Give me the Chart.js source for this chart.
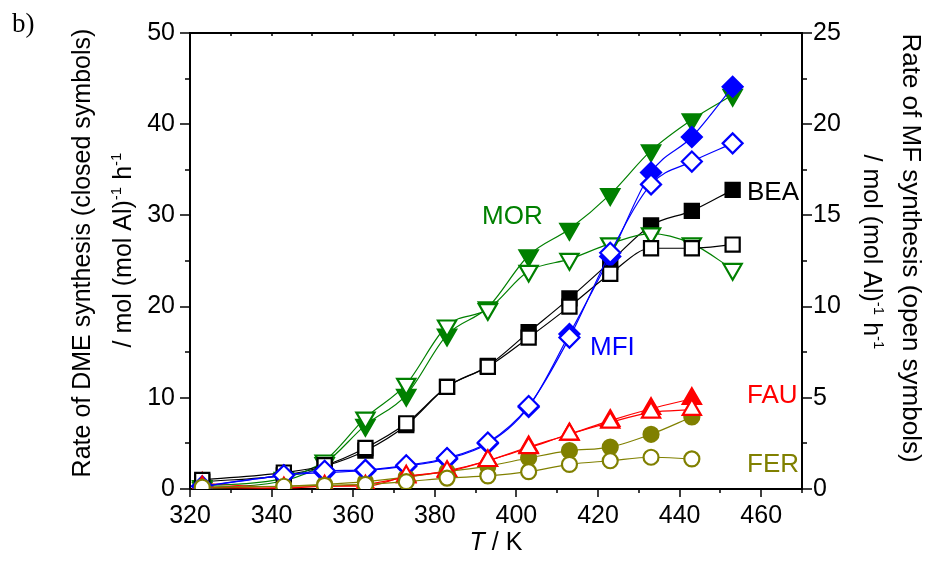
<!DOCTYPE html>
<html>
<head>
<meta charset="utf-8">
<script src="https://cdn.jsdelivr.net/npm/chart.js@4.4.0/dist/chart.umd.min.js"></script>
<style>
body { margin: 0; background: #fff; }
#wrap { width: 928px; height: 564px; }
</style>
</head>
<body>
<div id="wrap"><canvas id="myChart" width="928" height="564"></canvas></div>
<script>
// temperatures (K)
const temps = [323, 343, 353, 363, 373, 383, 393, 403, 413, 423, 433, 443, 453];

// DME rates (closed symbols, left axis)
const morDme = [0.1, 0.9, 2.8, 7.0, 10.3, 16.9, 19.9, 25.6, 28.5, 32.3, 37.1, 40.5, 43.2];
const beaDme = [0.8, 1.5, 2.5, 4.2, 7.0, 11.2, 13.5, 17.2, 20.9, 24.9, 28.9, 30.5, 32.8];
const mfiDme = [0.3, 1.5, 1.8, 2.0, 2.5, 3.3, 5.0, 9.0, 17.0, 25.5, 34.7, 38.6, 44.1];
const fauDme = [0.6, 0.2, 0.3, 0.5, 1.3, 2.0, 3.1, 4.6, 6.0, 7.5, 8.8, 9.9];
const ferDme = [0.1, 0.3, 0.5, 0.8, 1.3, 1.9, 2.5, 3.4, 4.2, 4.6, 6.0, 7.9];

// MF rates (open symbols, right axis)
const morMf = [0.15, 0.6, 1.55, 3.9, 5.75, 8.95, 9.85, 11.95, 12.6, 13.45, 14.0, 13.45, 12.05];
const beaMf = [0.5, 0.9, 1.3, 2.25, 3.6, 5.6, 6.7, 8.3, 10.0, 11.8, 13.2, 13.2, 13.4];
const mfiMf = [0.15, 0.75, 1.0, 1.05, 1.3, 1.7, 2.55, 4.55, 8.3, 12.95, 16.7, 17.95, 18.95];
const fauMf = [0.1, 0.05, 0.15, 0.15, 0.7, 0.95, 1.55, 2.25, 3.0, 3.65, 4.2, 4.35];
const ferMf = [0.1, 0.15, 0.2, 0.25, 0.4, 0.6, 0.72, 0.95, 1.35, 1.55, 1.74, 1.65];

const FONT = "'Liberation Sans', Arial, sans-serif";

const pts = (vals) => vals.map((v, i) => ({ x: temps[i], y: v }));

const series = (vals, color, style, radius, open, axis, rot) => ({
    data: pts(vals),
    yAxisID: axis,
    borderColor: color,
    borderWidth: 1.2,
    pointStyle: style,
    pointRadius: radius,
    pointRotation: rot || 0,
    pointBorderWidth: 2.2,
    pointBorderColor: color,
    pointBackgroundColor: open ? '#fff' : color,
    cubicInterpolationMode: 'monotone',
    fill: false
});

// first in list = drawn on top
const datasets = [
    series(ferMf, '#808000', 'circle', 7.5, true, 'y2'),
    series(fauMf, '#ff0000', 'triangle', 10.5, true, 'y2'),
    series(mfiMf, '#0000ff', 'rectRot', 10, true, 'y2'),
    series(beaMf, '#000000', 'rect', 10, true, 'y2'),
    series(morMf, '#008000', 'triangle', 10.5, true, 'y2', 180),
    series(ferDme, '#808000', 'circle', 7.5, false, 'y'),
    series(fauDme, '#ff0000', 'triangle', 10.5, false, 'y'),
    series(mfiDme, '#0000ff', 'rectRot', 10, false, 'y'),
    series(beaDme, '#000000', 'rect', 10, false, 'y'),
    series(morDme, '#008000', 'triangle', 10.5, false, 'y', 180)
];

const line = (ctx, x1, y1, x2, y2) => {
    ctx.beginPath();
    ctx.moveTo(x1, y1);
    ctx.lineTo(x2, y2);
    ctx.stroke();
};

// draws text made of normal and superscript parts, centred on 0
const drawParts = (ctx, parts, size) => {
    let w = 0;
    parts.forEach(p => {
        ctx.font = (p.sup ? 15 : size) + 'px ' + FONT;
        w += ctx.measureText(p.t).width;
    });
    let x = -w / 2;
    parts.forEach(p => {
        ctx.font = (p.sup ? 15 : size) + 'px ' + FONT;
        ctx.fillText(p.t, x, p.sup ? -10 : 0);
        x += ctx.measureText(p.t).width;
    });
};

const unitParts = [
    { t: '/ mol (mol Al)' }, { t: '-1', sup: true }, { t: ' h' }, { t: '-1', sup: true }
];

const decor = {
    id: 'decor',
    afterDraw(chart) {
        const ctx = chart.ctx;
        const a = chart.chartArea;
        const xs = chart.scales.x, ys = chart.scales.y, ys2 = chart.scales.y2;
        ctx.save();
        ctx.strokeStyle = '#000';
        ctx.lineWidth = 2;
        line(ctx, a.left - 1, a.top, a.right + 1, a.top);
        ctx.lineWidth = 1.5;
        for (let v = 320; v <= 470; v += 10) {
            const px = Math.round(xs.getPixelForValue(v));
            const major = v % 20 === 0;
            line(ctx, px, a.bottom, px, a.bottom + (major ? 8 : 4));
            line(ctx, px, a.top, px, a.top + 3);
        }
        for (let v = 0; v <= 50; v += 5) {
            const py = Math.round(ys.getPixelForValue(v));
            line(ctx, a.left, py, a.left - (v % 10 === 0 ? 10 : 5), py);
        }
        for (let v = 0; v <= 25; v += 2.5) {
            const py = Math.round(ys2.getPixelForValue(v));
            line(ctx, a.right, py, a.right + (v % 5 === 0 ? 10 : 5), py);
        }

        ctx.fillStyle = '#000';
        ctx.textBaseline = 'alphabetic';
        ctx.textAlign = 'left';

        // left title
        ctx.save();
        ctx.translate(90, 253);
        ctx.rotate(-Math.PI / 2);
        drawParts(ctx, [{ t: 'Rate of DME synthesis (closed symbols)' }], 25);
        ctx.restore();
        ctx.save();
        ctx.translate(131, 250);
        ctx.rotate(-Math.PI / 2);
        drawParts(ctx, unitParts, 25);
        ctx.restore();

        // right title
        ctx.save();
        ctx.translate(903, 248);
        ctx.rotate(Math.PI / 2);
        drawParts(ctx, [{ t: 'Rate of MF synthesis (open symbols)' }], 26);
        ctx.restore();
        ctx.save();
        ctx.translate(864, 252);
        ctx.rotate(Math.PI / 2);
        drawParts(ctx, unitParts, 25);
        ctx.restore();

        // x title
        ctx.font = 'italic 25px ' + FONT;
        const tw = ctx.measureText('T').width;
        ctx.font = '25px ' + FONT;
        const rw = ctx.measureText(' / K').width;
        const x0 = (a.left + a.right) / 2 - (tw + rw) / 2;
        ctx.font = 'italic 25px ' + FONT;
        ctx.fillText('T', x0, 550);
        ctx.font = '25px ' + FONT;
        ctx.fillText(' / K', x0 + tw, 550);

        // panel letter
        ctx.font = "27px 'Liberation Serif', 'Times New Roman', serif";
        ctx.fillText('b)', 12, 32);

        // zeolite labels
        ctx.font = '26px ' + FONT;
        const labels = [
            ['MOR', '#008000', 482, 224],
            ['BEA', '#000000', 747, 200],
            ['MFI', '#0000ff', 590, 355],
            ['FAU', '#ff0000', 747, 403],
            ['FER', '#808000', 747, 472]
        ];
        labels.forEach(l => {
            ctx.fillStyle = l[1];
            ctx.fillText(l[0], l[2], l[3]);
        });
        ctx.restore();
    }
};

const tickFont = { family: FONT, size: 25 };

new Chart(document.getElementById('myChart').getContext('2d'), {
    type: 'line',
    data: { datasets: datasets },
    options: {
        responsive: false,
        animation: false,
        layout: { padding: { top: 33, left: 0, right: 0, bottom: 0 } },
        plugins: { legend: { display: false }, tooltip: { enabled: false } },
        scales: {
            x: {
                type: 'linear',
                min: 320,
                max: 470,
                grid: { display: false, drawTicks: false },
                border: { display: true, color: '#000', width: 2 },
                ticks: { stepSize: 20, includeBounds: false, color: '#000', font: tickFont, padding: 12, maxRotation: 0 },
                afterFit: s => { s.height = 75; }
            },
            y: {
                position: 'left',
                min: 0,
                max: 50,
                grid: { display: false, drawTicks: false },
                border: { display: true, color: '#000', width: 2 },
                ticks: { stepSize: 10, color: '#000', font: tickFont, padding: 15 },
                afterFit: s => { s.width = 190; }
            },
            y2: {
                position: 'right',
                min: 0,
                max: 25,
                grid: { display: false, drawTicks: false },
                border: { display: true, color: '#000', width: 2 },
                ticks: { stepSize: 5, color: '#000', font: tickFont, padding: 11 },
                afterFit: s => { s.width = 126; }
            }
        }
    },
    plugins: [decor]
});
</script>
</body>
</html>
